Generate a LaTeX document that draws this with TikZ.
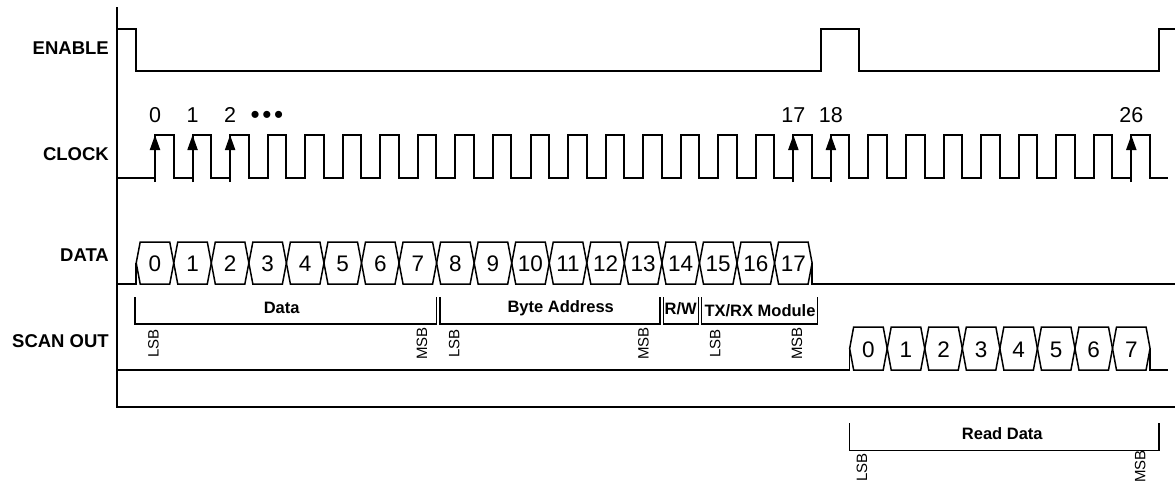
\documentclass[tikz,border=0pt]{standalone}
\usepackage{fontspec}
\setmainfont{Liberation Sans}
\usetikzlibrary{arrows.meta}
\begin{document}
\begin{tikzpicture}[x=1pt,y=-1pt,
  sig/.style={line width=2pt, line join=miter},
  bus/.style={line width=1.5pt, line join=miter},
  brk/.style={line width=1.5pt},
  axis/.style={line width=2.8pt},
  clkarrow/.style={line width=2pt, -{Triangle[length=15pt,width=10pt]}},
  siglabel/.style={font=\fontsize{18.5}{20}\selectfont\bfseries, anchor=east, inner sep=0pt, text height=13.3pt, text depth=0pt},
  num/.style={font=\fontsize{21.5}{23}\selectfont, inner sep=0pt, text height=15.4pt, text depth=0pt},
  busnum/.style={font=\fontsize{22.5}{24}\selectfont, inner sep=0pt, text height=16.1pt, text depth=0pt},
  brklabel/.style={font=\fontsize{16.5}{18}\selectfont\bfseries, inner sep=0pt, text height=11.8pt, text depth=0pt},
  bitlabel/.style={font=\fontsize{15}{17}\selectfont, inner sep=0pt, rotate=90, text height=10.7pt, text depth=0pt},
]
\useasboundingbox (0,0) rectangle (1175,482);
\fill[white] (0,0) rectangle (1175,482);

% axes
\draw[axis, line cap=rect] (117,8) -- (117,407) -- (1175,407);

% signal labels
\node[siglabel] (lenable) at (109,48) {ENABLE};
\node[siglabel] (lclock) at (109,154) {CLOCK};
\node[siglabel] (ldata) at (109,255) {DATA};
\node[siglabel] (lscan) at (109,341) {SCAN OUT};

% ENABLE
\draw[sig] (117,29) -- (136,29) -- (136,71) -- (820.7,71) -- (820.7,29) -- (859.3,29) -- (859.3,71) -- (1159.3,71) -- (1159.3,29) -- (1175,29);

% CLOCK
\draw[sig] (117,178) \foreach \k in {0,...,26} { -- ({155+37.55*\k},178) -- ({155+37.55*\k},135) -- ({173.5+37.55*\k},135) -- ({173.5+37.55*\k},178) } -- (1168,178);
\foreach \k/\t in {0/0,1/1,2/2,17/17,18/18,26/26} {
  \coordinate (ca\k) at ({155+37.55*\k},182);
  \coordinate (ct\k) at ({155+37.55*\k},135);
  \draw[clkarrow] (ca\k) -- (ct\k);
  \node[num] (cn\k) at ({155+37.55*\k},114.5) {\t};
}
\node[font=\fontsize{26}{28}\selectfont, inner sep=0pt] (dots) at (267,117) {•\kern2.6pt•\kern2.6pt•};

% DATA bus
\draw[bus] (117,284) -- (136.2,284) -- (136.2,263);
\foreach \k in {0,...,17} {
  \pgfmathsetmacro{\a}{136.2+37.55*\k}
  \pgfmathsetmacro{\b}{136.2+37.55*(\k+1)}
  \draw[bus] (\a,263) -- (\a+4,242) -- (\b-4,242) -- (\b,263) -- (\b-4,284) -- (\a+4,284) -- cycle;
  \node[busnum] (d\k) at ({(\a+\b)/2},263.5) {\k};
}
\draw[bus] ({136.2+37.55*18},263) -- ({136.2+37.55*18},284) -- (1175,284);

% SCAN OUT bus
\draw[bus] (117,370) -- ({136.2+37.55*19},370) -- ({136.2+37.55*19},348.5);
\foreach \k in {0,...,7} {
  \pgfmathsetmacro{\a}{136.2+37.55*(\k+19)}
  \pgfmathsetmacro{\b}{136.2+37.55*(\k+20)}
  \draw[bus] (\a,348.5) -- (\a+4,327) -- (\b-4,327) -- (\b,348.5) -- (\b-4,370) -- (\a+4,370) -- cycle;
  \node[busnum] (s\k) at ({(\a+\b)/2},349) {\k};
}
\draw[bus] ({136.2+37.55*27},348.5) -- ({136.2+37.55*27},370) -- (1168,370);

% brackets
\draw[brk] (135,297) -- (135,324) -- (436.6,324) -- (436.6,297);
\draw[brk] (440,297) -- (440,324) -- (660,324) -- (660,297);
\draw[brk] (663.3,297) -- (663.3,324) -- (698.3,324) -- (698.3,297);
\draw[brk] (701.7,297) -- (701.7,324) -- (817.7,324) -- (817.7,297);
\draw[brk] (849.3,423.3) -- (849.3,450.7) -- (1159,450.7) -- (1159,423.3);

\node[brklabel] (bdata) at (281.7,307.7) {Data};
\node[brklabel] (baddr) at (560.7,306.7) {Byte Address};
\node[brklabel] (brw) at (680.7,308.3) {R/W};
\node[brklabel] (btx) at (760,310.7) {TX/RX Module};
\node[brklabel] (bread) at (1002.3,434) {Read Data};

% LSB / MSB
\node[bitlabel] (l1) at (153.3,343.5) {LSB};
\node[bitlabel] (m1) at (421.7,343.5) {MSB};
\node[bitlabel] (l2) at (454,343.5) {LSB};
\node[bitlabel] (m2) at (643.3,343.5) {MSB};
\node[bitlabel] (l3) at (715,343.5) {LSB};
\node[bitlabel] (m3) at (796.7,343.5) {MSB};
\node[bitlabel] (l4) at (861.7,467.5) {LSB};
\node[bitlabel] (m4) at (1140,466.5) {MSB};
\end{tikzpicture}
\end{document}
